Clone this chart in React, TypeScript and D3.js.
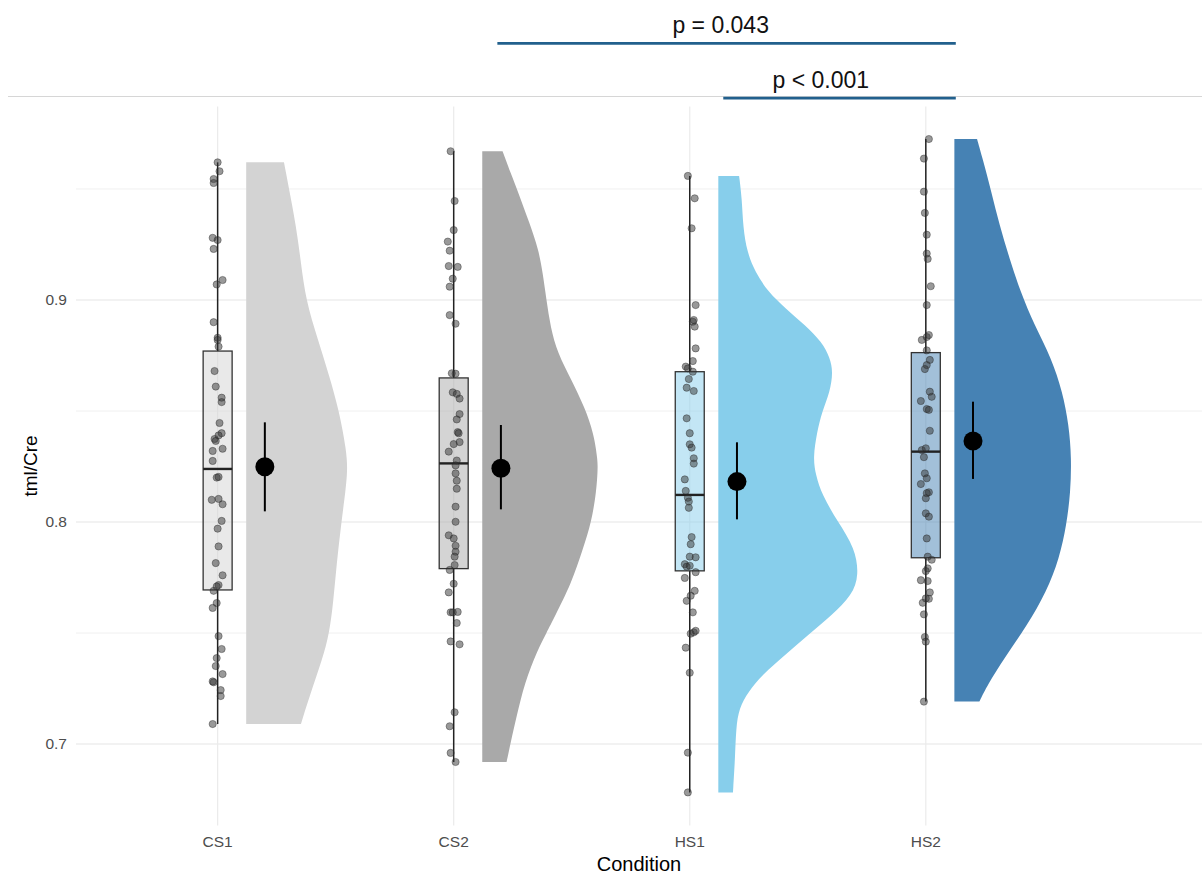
import React from "react";
import * as d3 from "d3";

// ---------- data ----------
const categories = ["CS1", "CS2", "HS1", "HS2"];
const fillColors = ["#d3d3d3", "#a9a9a9", "#87ceeb", "#4682b4"];

const yMajorTicks = [0.7, 0.8, 0.9];
const yMinorTicks = [0.75, 0.85, 0.95];
const yDomain = [0.6633, 0.9872];

// [value, horizontal jitter in category units]
const cs1Points: [number, number][] = [
  [0.962, 0], [0.958, 0.008], [0.9545, -0.017], [0.9527, -0.017], [0.928, -0.021], [0.927, 0], [0.923, -0.017],
  [0.909, 0.021], [0.907, -0.004], [0.89, -0.017], [0.883, 0], [0.882, 0], [0.879, 0.004], [0.868, -0.013],
  [0.861, -0.008], [0.856, 0.017], [0.854, 0.017], [0.8446, 0.008], [0.84, 0.017], [0.839, 0.004], [0.8374, -0.013],
  [0.8365, -0.008], [0.832, -0.021], [0.833, 0.021], [0.8275, -0.021], [0.82, -0.004], [0.8203, 0.004], [0.81, -0.025],
  [0.8104, 0.004], [0.808, 0.021], [0.8005, 0.017], [0.797, 0], [0.789, 0.004], [0.7815, -0.008], [0.776, 0.021],
  [0.7716, 0.004], [0.771, -0.004], [0.769, -0.017], [0.7635, -0.004], [0.7613, -0.021], [0.7486, 0.004], [0.7428, 0.017],
  [0.7387, -0.004], [0.7351, -0.008], [0.7315, 0.021], [0.7282, -0.021], [0.7278, -0.017], [0.7243, 0.013], [0.7216, 0.013],
  [0.709, -0.021],
];
const cs2Points: [number, number][] = [
  [0.967, -0.013], [0.9446, 0.004], [0.9315, 0], [0.9263, -0.025], [0.9222, -0.017], [0.9153, -0.021], [0.9149, 0.017],
  [0.9096, -0.004], [0.906, -0.017], [0.8932, -0.017], [0.8893, 0.008], [0.867, -0.008], [0.8668, 0.008], [0.8584, -0.004],
  [0.8577, 0.013], [0.8556, 0.025], [0.8486, 0.025], [0.8462, 0.013], [0.8405, 0.017], [0.84, 0.021], [0.836, 0.025],
  [0.8351, 0], [0.8317, -0.021], [0.8277, 0.013], [0.8255, 0.008], [0.8219, 0.008], [0.8186, 0.013], [0.815, 0.013],
  [0.8069, 0.008], [0.8001, 0.008], [0.794, -0.021], [0.7926, 0], [0.7893, 0.008], [0.7866, 0.008], [0.7844, 0.004],
  [0.7806, 0.004], [0.7784, -0.017], [0.7722, 0], [0.7683, -0.021], [0.7593, -0.013], [0.7593, -0.004], [0.7595, 0.017],
  [0.7545, 0.013], [0.7462, -0.013], [0.7449, 0.025], [0.7143, 0.004], [0.708, -0.017], [0.696, -0.013], [0.6919, 0.008],
];
const hs1Points: [number, number][] = [
  [0.9559, -0.008], [0.9458, 0.021], [0.9323, 0.008], [0.8977, 0.025], [0.891, 0.017], [0.8902, 0.013], [0.888, 0.021],
  [0.8782, 0.025], [0.8725, 0.013], [0.87, -0.017], [0.8692, -0.008], [0.8677, 0.013], [0.8644, -0.004], [0.8605, -0.013],
  [0.859, 0.017], [0.8467, -0.013], [0.84, 0], [0.835, 0], [0.8335, 0.008], [0.8287, 0.017], [0.8263, 0.017],
  [0.8192, -0.021], [0.814, -0.017], [0.8109, -0.008], [0.8092, -0.004], [0.8064, -0.004], [0.7932, 0.008], [0.79, 0.004],
  [0.7844, 0], [0.7841, 0.025], [0.781, -0.021], [0.7799, -0.013], [0.7803, 0], [0.7774, 0.025], [0.7748, -0.021],
  [0.769, 0.021], [0.7668, 0.004], [0.7645, -0.013], [0.7593, 0.013], [0.7497, 0.004], [0.7503, 0.017], [0.751, 0.025],
  [0.7434, -0.017], [0.7321, 0], [0.6961, -0.008], [0.6782, -0.008],
];
const hs2Points: [number, number][] = [
  [0.9725, 0.013], [0.9637, -0.008], [0.9488, -0.008], [0.9392, -0.004], [0.9294, 0.004], [0.9209, 0.004], [0.9185, 0.008],
  [0.9062, 0.021], [0.8977, 0.004], [0.882, -0.017], [0.8833, 0.004], [0.8842, 0.013], [0.8773, 0.004], [0.873, 0.017],
  [0.8707, 0.004], [0.8689, -0.004], [0.8587, 0.017], [0.8564, 0.025], [0.8545, -0.021], [0.8509, 0.004], [0.8505, 0.013],
  [0.8411, 0.017], [0.8324, -0.017], [0.8332, 0], [0.8292, -0.008], [0.8219, -0.004], [0.8197, 0.004], [0.8171, -0.021],
  [0.8134, 0.013], [0.813, 0.004], [0.8107, 0], [0.8039, 0], [0.8024, 0.013], [0.7926, 0.004], [0.7844, 0.008],
  [0.783, 0.025], [0.7791, 0.008], [0.7779, 0], [0.7738, -0.021], [0.7734, 0.008], [0.7683, 0.017], [0.7654, 0.013],
  [0.7656, 0], [0.7636, -0.013], [0.7584, -0.008], [0.7482, -0.004], [0.7461, 0], [0.7191, -0.008],
];
const groupPoints = [cs1Points, cs2Points, hs1Points, hs2Points];

// box plot statistics
const boxQ1 = [0.7694, 0.779, 0.778, 0.7839];
const boxMedian = [0.8239, 0.8264, 0.8122, 0.8317];
const boxQ3 = [0.877, 0.8649, 0.8677, 0.8763];
const whiskerLow = [0.709, 0.6919, 0.6782, 0.7191];
const whiskerHigh = [0.962, 0.967, 0.9559, 0.9725];

// mean and confidence interval
const meanValues = [0.8249, 0.8242, 0.8182, 0.8365];
const ciLow = [0.8048, 0.8057, 0.8012, 0.8194];
const ciHigh = [0.8449, 0.8437, 0.8359, 0.8542];

// half-violin outlines: [value, width in category units]
const cs1Density: [number, number][] = [
  [0.962, 0.16], [0.9498, 0.182], [0.9336, 0.211], [0.9167, 0.232], [0.8998, 0.253], [0.8827, 0.302], [0.8658, 0.352],
  [0.8498, 0.394], [0.832, 0.425], [0.8234, 0.429], [0.8149, 0.422], [0.798, 0.401], [0.7809, 0.383], [0.764, 0.369],
  [0.7498, 0.352], [0.7383, 0.323], [0.7212, 0.267], [0.709, 0.232],
];
const cs2Density: [number, number][] = [
  [0.967, 0.086], [0.9572, 0.12], [0.9492, 0.15], [0.9347, 0.2], [0.9225, 0.239], [0.9122, 0.256], [0.9, 0.272],
  [0.8878, 0.289], [0.8761, 0.319], [0.864, 0.378], [0.8518, 0.433], [0.8401, 0.472], [0.8279, 0.489], [0.8234, 0.489],
  [0.8144, 0.484], [0.8, 0.463], [0.7874, 0.425], [0.7725, 0.378], [0.7572, 0.306], [0.75, 0.272], [0.7423, 0.234],
  [0.7275, 0.179], [0.7122, 0.145], [0.7005, 0.12], [0.6919, 0.103],
];
const hs1Density: [number, number][] = [
  [0.9559, 0.088], [0.9459, 0.1], [0.9324, 0.105], [0.9216, 0.122], [0.9126, 0.156], [0.9036, 0.211], [0.8964, 0.283],
  [0.8887, 0.367], [0.8811, 0.439], [0.8739, 0.473], [0.8676, 0.486], [0.8586, 0.473], [0.8495, 0.439], [0.8405, 0.418],
  [0.8288, 0.401], [0.8212, 0.413], [0.8122, 0.439], [0.8, 0.507], [0.7883, 0.579], [0.7761, 0.596], [0.7671, 0.567],
  [0.7581, 0.482], [0.7491, 0.38], [0.7401, 0.283], [0.7311, 0.185], [0.7234, 0.126], [0.7162, 0.088], [0.7072, 0.075],
  [0.6937, 0.071], [0.6782, 0.062],
];
const hs2Density: [number, number][] = [
  [0.9725, 0.096], [0.964, 0.119], [0.9486, 0.157], [0.9338, 0.191], [0.9189, 0.233], [0.9036, 0.28], [0.8887, 0.339],
  [0.8739, 0.411], [0.8586, 0.458], [0.8437, 0.485], [0.8288, 0.496], [0.8135, 0.492], [0.7986, 0.475], [0.7838, 0.445],
  [0.7685, 0.39], [0.7536, 0.309], [0.7387, 0.212], [0.7266, 0.14], [0.7191, 0.106],
];
const groupDensity = [cs1Density, cs2Density, hs1Density, hs2Density];

// significance brackets (x in category index units, y in data units)
const bracketStart = [1.185, 2.142];
const bracketEnd = [3.127, 3.127];
const bracketValue = [1.0156, 0.9909];
const bracketLabels = ["p = 0.043", "p < 0.001"];
const bracketLabelX = [2.131, 2.555];

const xTitle = "Condition";
const yTitle = "tml/Cre";

// ---------- layout / style ----------
const W = 1202;
const H = 874;
const panelLeft = 76;
const panelRight = 1202;
const panelTop = 106.4;
const panelBottom = 825.5;
const FONT = "'Liberation Sans', Arial, Helvetica, sans-serif";

const boxHalf = 0.0614;
const violinOffset = 0.121;
const meanOffset = 0.2;

export default function App() {
  const x = d3.scaleLinear().domain([-0.6, 4.17]).range([panelLeft, panelRight]);
  const y = d3.scaleLinear().domain(yDomain).range([panelBottom, panelTop]);

  const violinPath = (i: number) =>
    d3
      .area<[number, number]>()
      .y((d) => y(d[0]))
      .x0(x(i + violinOffset))
      .x1((d) => x(i + violinOffset + d[1]))
      .curve(d3.curveBasis)(groupDensity[i]) || "";

  return (
    <svg
      width={W}
      height={H}
      style={{ position: "absolute", left: 0, top: 0, background: "#fff" }}
      fontFamily={FONT}
    >
      <rect x={0} y={0} width={W} height={H} fill="#fff" />
      {/* grid */}
      {yMinorTicks.map((t) => (
        <line key={"mn" + t} x1={panelLeft} x2={panelRight} y1={y(t)} y2={y(t)} stroke="#f0f0f0" strokeWidth={1} />
      ))}
      {yMajorTicks.map((t) => (
        <line key={"mj" + t} x1={panelLeft} x2={panelRight} y1={y(t)} y2={y(t)} stroke="#e6e6e6" strokeWidth={1.2} />
      ))}
      {categories.map((c, i) => (
        <line key={"vg" + c} x1={x(i)} x2={x(i)} y1={panelTop} y2={panelBottom} stroke="#ebebeb" strokeWidth={1.2} />
      ))}
      {/* top rule */}
      <line x1={8} x2={W} y1={96.5} y2={96.5} stroke="#d6d6d6" strokeWidth={1.2} />

      {/* violins */}
      {categories.map((c, i) => (
        <path key={"v" + c} d={violinPath(i)} fill={fillColors[i]} stroke="none" />
      ))}

      {/* box plots */}
      {categories.map((c, i) => (
        <g key={"b" + c}>
          <line x1={x(i)} x2={x(i)} y1={y(whiskerHigh[i])} y2={y(boxQ3[i])} stroke="#222" strokeWidth={1.5} />
          <line x1={x(i)} x2={x(i)} y1={y(boxQ1[i])} y2={y(whiskerLow[i])} stroke="#222" strokeWidth={1.5} />
          <rect
            x={x(i - boxHalf)}
            y={y(boxQ3[i])}
            width={x(i + boxHalf) - x(i - boxHalf)}
            height={y(boxQ1[i]) - y(boxQ3[i])}
            fill={fillColors[i]}
            fillOpacity={0.5}
            stroke="#333"
            strokeWidth={1.3}
          />
          <line
            x1={x(i - boxHalf)}
            x2={x(i + boxHalf)}
            y1={y(boxMedian[i])}
            y2={y(boxMedian[i])}
            stroke="#222"
            strokeWidth={2.4}
          />
        </g>
      ))}

      {/* jittered points */}
      {groupPoints.map((pts, i) =>
        pts.map((p, k) => (
          <circle
            key={"p" + i + "-" + k}
            cx={x(i + p[1])}
            cy={y(p[0])}
            r={3.6}
            fill="#333"
            fillOpacity={0.5}
            stroke="#222"
            strokeOpacity={0.5}
            strokeWidth={0.8}
          />
        ))
      )}

      {/* mean + CI */}
      {categories.map((c, i) => (
        <g key={"m" + c}>
          <line
            x1={x(i + meanOffset)}
            x2={x(i + meanOffset)}
            y1={y(ciHigh[i])}
            y2={y(ciLow[i])}
            stroke="#000"
            strokeWidth={2}
          />
          <circle cx={x(i + meanOffset)} cy={y(meanValues[i])} r={9.5} fill="#000" />
        </g>
      ))}

      {/* significance brackets */}
      {bracketLabels.map((lab, k) => (
        <g key={"s" + k}>
          <line
            x1={x(bracketStart[k])}
            x2={x(bracketEnd[k])}
            y1={y(bracketValue[k])}
            y2={y(bracketValue[k])}
            stroke="#22608d"
            strokeWidth={2.7}
          />
          <text x={x(bracketLabelX[k])} y={y(bracketValue[k]) - 10} textAnchor="middle" fontSize={23} fill="#111">
            {lab}
          </text>
        </g>
      ))}

      {/* y axis labels */}
      {yMajorTicks.map((t) => (
        <text
          key={"yl" + t}
          x={67}
          y={y(t)}
          dy="0.35em"
          textAnchor="end"
          fontSize={15.5}
          fill="#4d4d4d"
        >
          {d3.format(".1f")(t)}
        </text>
      ))}
      {/* x axis labels */}
      {categories.map((c, i) => (
        <text key={"xl" + c} x={x(i)} y={846.5} textAnchor="middle" fontSize={15.5} fill="#4d4d4d">
          {c}
        </text>
      ))}
      <text x={(panelLeft + panelRight) / 2} y={871} textAnchor="middle" fontSize={20} fill="#000">
        {xTitle}
      </text>
      <text
        transform={`translate(37,${(panelTop + panelBottom) / 2}) rotate(-90)`}
        textAnchor="middle"
        fontSize={19}
        fill="#000"
      >
        {yTitle}
      </text>
    </svg>
  );
}
